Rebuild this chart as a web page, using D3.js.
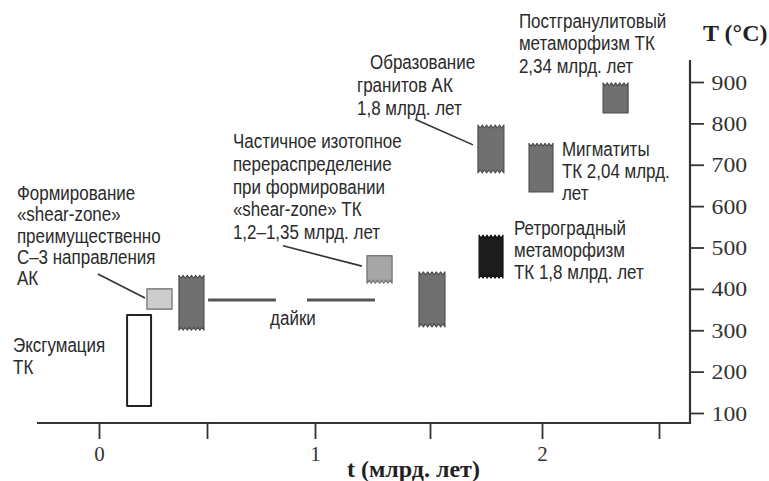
<!DOCTYPE html>
<html><head><meta charset="utf-8">
<script src="https://cdn.jsdelivr.net/npm/d3@7/dist/d3.min.js"></script>
<style>body{margin:0;background:#fff}svg{display:block;background:#fff}</style>
</head><body><svg id="c" width="769" height="481"></svg>
<script>
// ---------- data ----------
const tTicks = [0, 0.5, 1, 1.5, 2, 2.5];
const tTickLabels = ["0", "", "1", "", "2", ""];
const tempTicks = [100, 200, 300, 400, 500, 600, 700, 800, 900];

// blocks: time interval (млрд. лет) and temperature interval (°C)
const blockT0   = [0.130, 0.222, 0.370, 1.226, 1.452, 1.714, 1.719, 1.942, 2.261];
const blockT1   = [0.241, 0.338, 0.486, 1.335, 1.567, 1.830, 1.826, 2.047, 2.368];
const blockTlo  = [117, 351, 300, 414, 308, 680, 426, 634, 825];
const blockThi  = [337, 400, 433, 480, 441, 796, 530, 752, 898];
const blockKind = ["open", "light", "dark", "mid", "dark", "dark", "black", "dark", "dark"];
const blockZigTop    = [0, 0, 1, 0, 1, 1, 1, 1, 1];
const blockZigBottom = [0, 0, 1, 1, 1, 1, 1, 0, 0];

// dykes
const dykeT0 = [0.505, 0.963];
const dykeT1 = [0.819, 1.261];
const dykeTemp = [373, 373];

// annotations
const annText = [
  ["Формирование", "«shear-zone»", "преимущественно", "С–3 направления", "АК"],
  ["Эксгумация", "ТК"],
  ["Частичное изотопное", "перераспределение", "при формировании", "«shear-zone» ТК", "1,2–1,35 млрд. лет"],
  ["Образование", "гранитов АК", "1,8 млрд. лет"],
  ["Постгранулитовый", "метаморфизм ТК", "2,34 млрд. лет"],
  ["Мигматиты", "ТК 2,04 млрд.", "лет"],
  ["Ретроградный", "метаморфизм", "ТК 1,8 млрд. лет"],
  ["дайки"]
];
const annT    = [-0.380, -0.398, 0.620, 1.1826, 1.897, 2.085, 1.875, 0.898];
const annTemp = [614.8, 247.4, 740.5, 931.4, 1030.5, 721, 530, 312.7];

// leader lines
const leadT0 = [-0.005, 0.852, 1.435];
const leadTemp0 = [436, 504, 810];
const leadT1 = [0.213, 1.204, 1.692];
const leadTemp1 = [378, 455, 748];

// ---------- layout ----------
const frame = {left: 37, right: 690, top: 60, bottom: 423};
const svg = d3.select("#c");
const SANS = "'Liberation Sans', Arial, sans-serif";
const SERIF = "'Liberation Serif', 'Times New Roman', serif";

const x = d3.scaleLinear().domain(tTicks).range([99, 207, 315, 430, 542, 659]);
const y = d3.scaleLinear().domain([100, 900]).range([413, 82]);

// frame lines
svg.append("line").attr("x1", frame.left).attr("x2", frame.right)
  .attr("y1", frame.bottom).attr("y2", frame.bottom)
  .attr("stroke", "#333").attr("stroke-width", 2.2);
svg.append("line").attr("x1", frame.right).attr("x2", frame.right)
  .attr("y1", frame.top).attr("y2", frame.bottom + 1)
  .attr("stroke", "#333").attr("stroke-width", 2.2);

// x axis
const gx = svg.append("g").attr("transform", `translate(0,${frame.bottom})`)
  .call(d3.axisBottom(x).tickValues(tTicks).tickSize(16).tickPadding(7)
    .tickFormat((d, i) => tTickLabels[i]));
gx.select(".domain").remove();
gx.selectAll(".tick line").attr("stroke", "#333").attr("stroke-width", 1.8);
gx.selectAll(".tick text").attr("font-family", SERIF).attr("font-size", 21).attr("fill", "#333");

// y axis
const gy = svg.append("g").attr("transform", `translate(${frame.right},0)`)
  .call(d3.axisRight(y).tickValues(tempTicks).tickSize(14).tickPadding(6));
gy.select(".domain").remove();
gy.selectAll(".tick line").attr("stroke", "#333").attr("stroke-width", 1.8);
gy.selectAll(".tick text").attr("font-family", SERIF).attr("font-size", 22).attr("fill", "#333")
  .attr("transform", "scale(1.08,1)");

// axis titles
svg.append("text").attr("x", 703).attr("y", 41).text("T (°C)")
  .attr("font-family", SERIF).attr("font-weight", "bold").attr("font-size", 24).attr("fill", "#222");
svg.append("text").attr("x", 347).attr("y", 477).text("t (млрд. лет)")
  .attr("font-family", SERIF).attr("font-weight", "bold").attr("font-size", 24).attr("fill", "#222");

// blocks
const styles = {
  open:  {fill: "#ffffff", stroke: "#222", sw: 2},
  light: {fill: "#cdcdcd", stroke: "#8a8a8a", sw: 1.6},
  mid:   {fill: "#a6a6a6", stroke: "#7a7a7a", sw: 1.4},
  dark:  {fill: "#707070", stroke: "#4a4a4a", sw: 1.1},
  black: {fill: "#1c1c1c", stroke: "#111", sw: 1.1}
};
function blockPath(x0, x1, yt, yb, zt, zb) {
  const n = 6, amp = 3, p = d3.path();
  p.moveTo(x0, yt);
  if (zt) {
    for (let k = 1; k <= 2 * n; k++) p.lineTo(x0 + (x1 - x0) * k / (2 * n), yt + (k % 2 ? amp : 0));
  } else p.lineTo(x1, yt);
  p.lineTo(x1, yb);
  if (zb) {
    for (let k = 1; k <= 2 * n; k++) p.lineTo(x1 - (x1 - x0) * k / (2 * n), yb - (k % 2 ? amp : 0));
  } else p.lineTo(x0, yb);
  p.closePath();
  return p.toString();
}
blockT0.forEach((t0, i) => {
  const st = styles[blockKind[i]];
  svg.append("path")
    .attr("d", blockPath(x(t0), x(blockT1[i]), y(blockThi[i]), y(blockTlo[i]), blockZigTop[i], blockZigBottom[i]))
    .attr("fill", st.fill).attr("stroke", st.stroke).attr("stroke-width", st.sw)
    .attr("stroke-linejoin", "round");
});

// dykes
dykeT0.forEach((t0, i) => {
  svg.append("line").attr("x1", x(t0)).attr("x2", x(dykeT1[i]))
    .attr("y1", y(dykeTemp[i])).attr("y2", y(dykeTemp[i]))
    .attr("stroke", "#555").attr("stroke-width", 3);
});

// leaders
leadT0.forEach((t0, i) => {
  svg.append("line").attr("x1", x(t0)).attr("y1", y(leadTemp0[i]))
    .attr("x2", x(leadT1[i])).attr("y2", y(leadTemp1[i]))
    .attr("stroke", "#333").attr("stroke-width", 1.6);
});

// annotation text (slightly condensed sans)
const sx = 0.87;
const lineH = [21.3, 22, 22.8, 23, 22.5, 22, 22, 0];
const firstDx = [0, 0, 0, 13, 0, 0, 0, 0];
const anchor = ["start", "start", "start", "start", "start", "start", "start", "middle"];
annText.forEach((lines, i) => {
  const tx = svg.append("text").attr("font-family", SANS).attr("font-size", 19.5)
    .attr("fill", "#2a2a2a").attr("text-anchor", anchor[i])
    .attr("transform", `translate(${x(annT[i])},${y(annTemp[i])}) scale(${sx},1)`);
  lines.forEach((s, j) => {
    tx.append("tspan").attr("x", (j === 0 ? firstDx[i] : 0) / sx)
      .attr("y", j * lineH[i]).text(s);
  });
});
</script>
</body></html>
